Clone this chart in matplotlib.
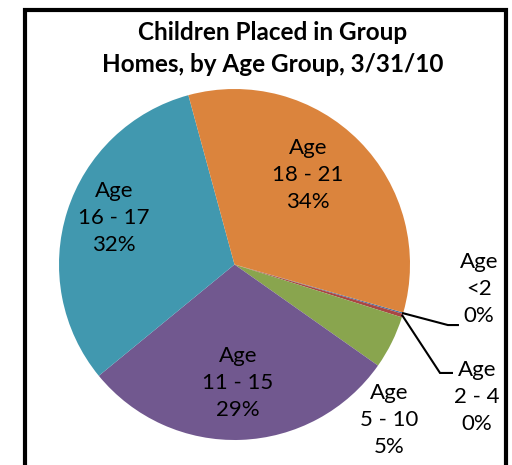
import numpy as np
import matplotlib.pyplot as plt
from matplotlib.patches import Rectangle

# Dados (percentual estimado de cada faixa etaria)
faixas = ['<2', '2 - 4', '5 - 10', '11 - 15', '16 - 17', '18 - 21']
valores = [0.12, 0.33, 4.9, 29.3, 31.7, 33.65]
rotulos_pct = ['0%', '0%', '5%', '29%', '32%', '34%']
cores = ['#4572A7', '#AA4643', '#89A54E', '#71588F', '#4198AF', '#DB843D']

W, H = 512, 465
fig = plt.figure(figsize=(W / 100, H / 100), dpi=100)
plt.rcParams['font.family'] = ['Lato', 'DejaVu Sans']

# Moldura do grafico
fig.patches.append(Rectangle((25 / W, -0.05), (506 - 25) / W, 1.05 - 10 / H,
                             transform=fig.transFigure, fill=False,
                             edgecolor='black', linewidth=3))

# Titulo
fig.text(273 / W, 1 - 32 / H, 'Children Placed in Group', ha='center', va='center',
         fontsize=17.5, fontweight='bold')
fig.text(273 / W, 1 - 65 / H, 'Homes, by Age Group, 3/31/10', ha='center', va='center',
         fontsize=17.5, fontweight='bold')

# Eixo da pizza (centro e raio em pixels)
cx, cy, r = 234.5, 264.5, 175.5
ax = fig.add_axes([(cx - r) / W, 1 - (cy + r) / H, 2 * r / W, 2 * r / H])

wedges, _ = ax.pie(valores, colors=cores, startangle=-15.9, counterclock=False,
                   radius=1, wedgeprops=dict(linewidth=0))
ax.set_xlim(-1, 1)
ax.set_ylim(-1, 1)
ax.axis('off')

# Posicoes dos rotulos
pos_rotulos = [(1.393, -0.140), (1.382, -0.755), (0.880, -0.886),
               (0.020, -0.675), (-0.687, 0.265), (0.419, 0.510)]

for i in range(len(faixas)):
    x, y = pos_rotulos[i]
    ax.text(x, y, 'Age\n' + faixas[i] + '\n' + rotulos_pct[i], ha='center', va='center',
            fontsize=16, linespacing=1.45, clip_on=False)

# Linhas de chamada para as fatias pequenas
chamadas = [((1.216, -0.345), (1.273, -0.345)),
            ((1.171, -0.618), (1.239, -0.618))]
for i in range(2):
    w = wedges[i]
    ang = np.deg2rad((w.theta1 + w.theta2) / 2)
    x0, y0 = np.cos(ang), np.sin(ang)
    (x1, y1), (x2, y2) = chamadas[i]
    ax.plot([x0, x1, x2], [y0, y1, y2], color='black', linewidth=1.5,
            clip_on=False, solid_joinstyle='miter')

fig.savefig('out.png', dpi=100)
